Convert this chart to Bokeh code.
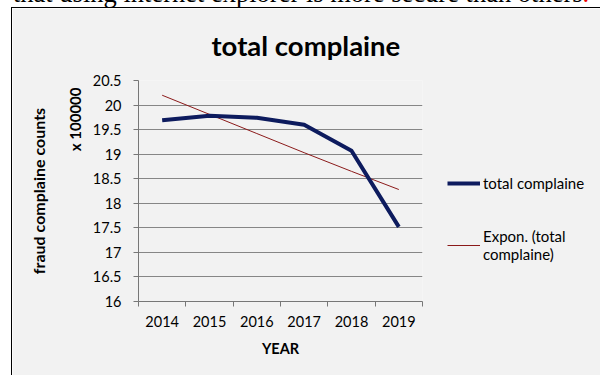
from bokeh.plotting import figure
from bokeh.models import (Range1d, FixedTicker, Legend, LegendItem, Title, Div,
                          ColumnDataSource)
from bokeh.layouts import column, row
from bokeh.embed import file_html
from bokeh.resources import INLINE

# ---- data ----
years = [2014, 2015, 2016, 2017, 2018, 2019]
x_labels = ["2014", "2015", "2016", "2017", "2018", "2019"]
total_complaine = [19.69, 19.78, 19.74, 19.60, 19.07, 17.52]
expon_trend = [20.20, 19.81, 19.42, 19.03, 18.65, 18.28]
y_ticks = [16, 16.5, 17, 17.5, 18, 18.5, 19, 19.5, 20, 20.5]
y_tick_labels = ["16", "16.5", "17", "17.5", "18", "18.5", "19", "19.5", "20", "20.5"]

FONT = "Lato"
BG = "#f2f2f2"

src = ColumnDataSource(dict(x=years, total=total_complaine, trend=expon_trend))

x_start = years[0] - 0.5
x_end = years[-1] + 0.5

p = figure(frame_width=284, frame_height=221,
           x_range=Range1d(x_start, x_end), y_range=Range1d(y_ticks[0], y_ticks[-1]),
           output_backend="svg", toolbar_location=None,
           min_border_left=126, min_border_right=178,
           min_border_top=72, min_border_bottom=74,
           background_fill_color=BG, border_fill_color=BG,
           outline_line_color=None, margin=0)

p.title = Title(text="total complaine", align="left", offset=73, vertical_align="top",
                text_font=FONT, text_font_size="27.5px", text_font_style="bold",
                text_color="#000000", standoff=34)

# axes
xa = p.xaxis[0]
xa.ticker = FixedTicker(ticks=years, minor_ticks=[y - 0.5 for y in years] + [years[-1] + 0.5])
xa.major_label_overrides = {y: lab for y, lab in zip(years, x_labels)}
xa.major_tick_out = 0
xa.major_tick_in = 0
xa.minor_tick_out = 5
xa.minor_tick_in = 0
xa.minor_tick_line_color = "#777777"
xa.axis_line_color = "#777777"
xa.major_label_text_font = FONT
xa.major_label_text_font_size = "14.5px"
xa.major_label_text_color = "#000000"
xa.major_label_standoff = 9
xa.axis_label = "YEAR"
xa.axis_label_text_font = FONT
xa.axis_label_text_font_size = "14.5px"
xa.axis_label_text_font_style = "bold"
xa.axis_label_text_color = "#000000"
xa.axis_label_standoff = 10

ya = p.yaxis[0]
ya.ticker = FixedTicker(ticks=y_ticks, minor_ticks=[])
ya.major_label_overrides = {t: lab for t, lab in zip(y_ticks, y_tick_labels)}
ya.major_tick_out = 5
ya.major_tick_in = 0
ya.major_tick_line_color = "#777777"
ya.axis_line_color = "#777777"
ya.minor_tick_line_color = None
ya.major_label_text_font = FONT
ya.major_label_text_font_size = "14.5px"
ya.major_label_text_color = "#000000"
ya.major_label_standoff = 12

p.xgrid.grid_line_color = None
p.ygrid.ticker = FixedTicker(ticks=y_ticks)
p.ygrid.grid_line_color = "#868686"
p.ygrid.grid_line_width = 1

# display-unit label and axis title on the left (inner first)
p.add_layout(Title(text="x 100000", align="right", offset=7, standoff=11,
                   text_font=FONT, text_font_size="15px", text_font_style="bold",
                   text_color="#000000"), "left")
p.add_layout(Title(text="fraud complaine counts", align="center", standoff=22,
                   text_font=FONT, text_font_size="16px", text_font_style="bold",
                   text_color="#000000"), "left")

r_trend = p.line("x", "trend", source=src, line_color="#8b1a1a", line_width=1)
r_total = p.line("x", "total", source=src, line_color="#0d1b5e", line_width=4,
                 line_join="round")

legend = Legend(items=[LegendItem(label="total complaine", renderers=[r_total]),
                       LegendItem(label="Expon. (total\ncomplaine)", renderers=[r_trend])],
                location=(25, 38), padding=0, margin=0, spacing=34,
                glyph_width=33, label_standoff=3,
                label_text_font=FONT, label_text_font_size="15px", label_text_color="#000000",
                background_fill_alpha=0, border_line_color=None)
p.add_layout(legend, "right")

top = Div(text='<div style="position:absolute;left:13px;top:-20px;white-space:nowrap;'
               'font-family:\'Liberation Serif\';font-size:26.5px;line-height:26px;color:#000">'
               'that using internet explorer is more secure than others<span style="color:#e00">.</span></div>'
               '<div style="position:absolute;left:11px;right:0;top:7px;height:1px;background:#000"></div>',
          width=600, height=8, margin=0,
          styles={"position": "relative", "overflow": "hidden"})

vline = Div(text="", width=1, height=367, margin=(0, 0, 0, 11),
            styles={"background-color": "#000"})

layout = column(top, row(vline, p, spacing=0, margin=0), spacing=0, margin=0)

open("out.html", "w").write(file_html(layout, INLINE))
